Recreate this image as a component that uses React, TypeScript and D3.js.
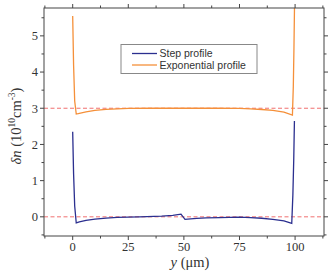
import React from "react";
import * as d3 from "d3";

const stepX = [0, 0.4, 0.9, 1.6, 3, 6, 10, 15, 20, 25, 30, 40, 45, 48.7, 50.5, 53, 55.8, 60, 66, 75, 80, 85, 90, 95, 98.5, 99.0, 99.4, 99.7];
const stepY = [2.35, 1.2, 0.3, -0.17, -0.14, -0.1, -0.065, -0.035, -0.018, -0.008, 0, 0.02, 0.04, 0.075, -0.07, -0.055, -0.045, -0.03, -0.02, -0.01, -0.02, -0.04, -0.07, -0.11, -0.18, 0.6, 1.6, 2.65];
const expX = [0, 0.4, 0.9, 1.6, 3, 6, 10, 15, 20, 25, 35, 50, 65, 75, 80, 85, 90, 95, 98.8, 99.2, 99.5, 99.8];
const expY = [5.55, 4.2, 3.2, 2.84, 2.86, 2.9, 2.94, 2.97, 2.985, 2.995, 3.0, 3.0, 3.0, 2.995, 2.985, 2.965, 2.94, 2.89, 2.81, 3.6, 4.7, 6.1];
const xMajor = [0, 25, 50, 75, 100];
const yMajor = [0, 1, 2, 3, 4, 5];
const refLines = [0, 3];
const seriesNames = ["Step profile", "Exponential profile"];
const seriesColors = ["#2b2f8f", "#f5903a"];

export default function App() {
  const W = 334, H = 274;
  const L = 44, R = 324, T = 8, B = 236;
  const x = d3.scaleLinear().domain([-12.9, 113]).range([L, R]);
  const y = d3.scaleLinear().domain([-0.53, 5.77]).range([B, T]);
  const xMinor = d3.range(-12.5, 113, 12.5);
  const yMinor = d3.range(-0.5, 5.8, 0.5);
  const mk = (xs: number[], ys: number[]) =>
    d3.line<number>().x((_, i) => x(xs[i])).y((_, i) => y(ys[i]))(xs) || "";
  const axisColor = "#444";
  const serif = "Liberation Serif";
  return (
    <svg width={W} height={H} style={{ position: "absolute", left: 0, top: 0 }}>
      <rect width={W} height={H} fill="#fff" />
      <defs>
        <clipPath id="clip">
          <rect x={L} y={T} width={R - L} height={B - T} />
        </clipPath>
      </defs>
      {refLines.map((v) => (
        <line key={v} x1={L} x2={R} y1={y(v)} y2={y(v)} stroke="#f07070" strokeWidth={1} strokeDasharray="4,2.5" />
      ))}
      <g clipPath="url(#clip)" fill="none" strokeWidth={1.3}>
        <path d={mk(stepX, stepY)} stroke={seriesColors[0]} />
        <path d={mk(expX, expY)} stroke={seriesColors[1]} />
      </g>
      <rect x={L} y={T} width={R - L} height={B - T} fill="none" stroke={axisColor} strokeWidth={1} />
      {xMinor.map((v) => {
        const maj = xMajor.includes(v);
        const len = maj ? 4 : 2.5;
        return (
          <g key={"xt" + v} stroke={axisColor}>
            <line x1={x(v)} x2={x(v)} y1={B} y2={B + len} />
            <line x1={x(v)} x2={x(v)} y1={T} y2={T - len} />
          </g>
        );
      })}
      {yMinor.map((v) => {
        const maj = yMajor.some((m) => Math.abs(m - v) < 1e-9);
        const len = maj ? 4 : 2.5;
        return (
          <g key={"yt" + v} stroke={axisColor}>
            <line x1={L} x2={L - len} y1={y(v)} y2={y(v)} />
            <line x1={R} x2={R + len} y1={y(v)} y2={y(v)} />
          </g>
        );
      })}
      {xMajor.map((v) => (
        <text key={"xl" + v} x={x(v)} y={251} textAnchor="middle" fontFamily={serif} fontSize={12.5} fill="#333">
          {v}
        </text>
      ))}
      {yMajor.map((v) => (
        <text key={"yl" + v} x={38} y={y(v) + 4.3} textAnchor="end" fontFamily={serif} fontSize={12.5} fill="#333">
          {v}
        </text>
      ))}
      <text x={190} y={267} textAnchor="middle" fontFamily={serif} fontSize={14.5} fill="#333">
        <tspan fontStyle="italic">y</tspan> (μm)
      </text>
      <text transform="translate(21,126) rotate(-90)" textAnchor="middle" fontFamily={serif} fontSize={14.5} fill="#333">
        <tspan fontStyle="italic">δn</tspan> (10<tspan fontSize={9.5} dy={-6}>10</tspan><tspan dy={6}>cm</tspan><tspan fontSize={9.5} dy={-6}>-3</tspan><tspan dy={6}>)</tspan>
      </text>
      <rect x={121} y={44.5} width={136} height={29} fill="#fff" stroke="#888" strokeWidth={1} />
      {seriesNames.map((n, i) => (
        <g key={n}>
          <line x1={132} x2={157} y1={53.5 + i * 11.5} y2={53.5 + i * 11.5} stroke={seriesColors[i]} strokeWidth={1.3} />
          <text x={159.5} y={57.3 + i * 11.5} fontFamily="Liberation Sans" fontSize={10.5} fill="#333">
            {n}
          </text>
        </g>
      ))}
    </svg>
  );
}
